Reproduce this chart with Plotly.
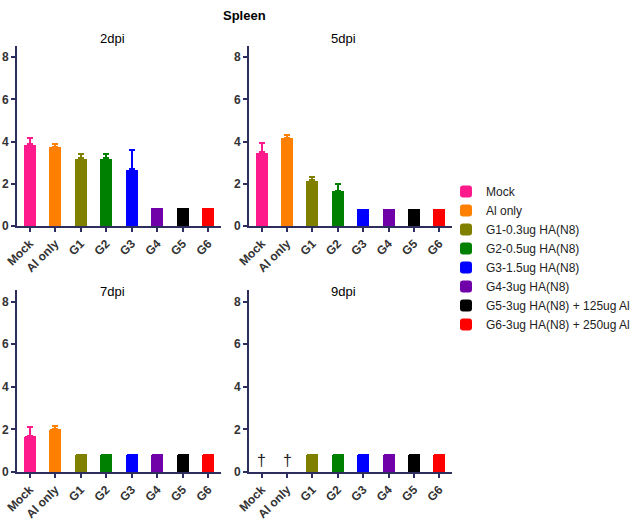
import plotly.graph_objects as go

W, H = 641, 523

categories = ["Mock", "Al only", "G1", "G2", "G3", "G4", "G5", "G6"]
legend_names = ["Mock", "Al only", "G1-0.3ug HA(N8)", "G2-0.5ug HA(N8)",
                "G3-1.5ug HA(N8)", "G4-3ug HA(N8)",
                "G5-3ug HA(N8) + 125ug Al", "G6-3ug HA(N8) + 250ug Al"]
colors = ["#FF1A8C", "#FF8000", "#808000", "#008000", "#0000FF", "#7000A8", "#000000", "#FF0000"]

panel_titles = ["2dpi", "5dpi", "7dpi", "9dpi"]
# mean values (None = no survivors, marked with dagger)
vals_2dpi = [3.88, 3.76, 3.22, 3.22, 2.70, 0.86, 0.86, 0.86]
err_2dpi = [4.16, 3.87, 3.40, 3.40, 3.60, None, None, None]
vals_5dpi = [3.50, 4.18, 2.17, 1.67, 0.81, 0.81, 0.81, 0.81]
err_5dpi = [3.94, 4.32, 2.30, 1.98, None, None, None, None]
vals_7dpi = [1.67, 2.00, 0.83, 0.83, 0.83, 0.83, 0.83, 0.83]
err_7dpi = [2.10, 2.15, None, None, None, None, None, None]
vals_9dpi = [None, None, 0.86, 0.86, 0.86, 0.86, 0.86, 0.86]
err_9dpi = [None, None, None, None, None, None, None, None]
dagger_9dpi = ["†", "†", "", "", "", "", "", ""]

panels = [(vals_2dpi, err_2dpi), (vals_5dpi, err_5dpi), (vals_7dpi, err_7dpi), (vals_9dpi, err_9dpi)]


def fx(x):
    return x / W


def fy(y):
    return 1 - y / H


# panel pixel geometry: (x_left, x_right, y_zero, y_top)
geom = [(17, 221, 226, 45.5), (249, 452, 226, 45.5), (17, 221, 472, 290), (249, 452, 472, 290)]
YMAX = 8.55
AXCOL = "#2E2E5E"
FONT = "Liberation Sans, Arial, sans-serif"

fig = go.Figure()
layout = {}
for p, ((vals, errs), (xl, xr, y0, yt)) in enumerate(zip(panels, geom)):
    sfx = "" if p == 0 else str(p + 1)
    xa, ya = "x" + sfx, "y" + sfx
    for i, cat in enumerate(categories):
        v = vals[i]
        if v is None:
            continue
        e = errs[i]
        err = dict(type="data", symmetric=False, array=[e - v], arrayminus=[0],
                   color=colors[i], thickness=2, width=3, visible=True) if e is not None else dict(visible=False)
        fig.add_trace(go.Bar(
            x=[cat], y=[v], name=legend_names[i], marker=dict(color=colors[i], line=dict(width=0)),
            width=0.47, error_y=err, xaxis=xa, yaxis=ya,
            legendgroup=legend_names[i], showlegend=(p == 0)))
    layout["xaxis" + sfx] = dict(
        domain=[fx(xl), fx(xr)], anchor=ya, type="category", categoryorder="array", automargin=False,
        categoryarray=categories, range=[-0.5, 7.5], showline=True, linecolor=AXCOL, linewidth=2,
        ticks="outside", ticklen=4, tickwidth=1.5, tickcolor=AXCOL, tickangle=-45,
        tickfont=dict(family=FONT, size=12, color="#333333", weight="bold"), showgrid=False, zeroline=False, fixedrange=True)
    layout["yaxis" + sfx] = dict(
        domain=[fy(y0), fy(yt)], anchor=xa, range=[0, YMAX], tickvals=[0, 2, 4, 6, 8],
        automargin=False,
        showline=True, linecolor=AXCOL, linewidth=2, ticks="outside", ticklen=4, tickwidth=1.5,
        tickcolor=AXCOL, tickfont=dict(family=FONT, size=12, color="#333333", weight="bold"),
        showgrid=False, zeroline=False, fixedrange=True)

annotations = [dict(text="<b>Spleen</b>", x=fx(244), y=fy(16), xref="paper", yref="paper",
                    xanchor="center", yanchor="middle",
                    showarrow=False, font=dict(family=FONT, size=13, color="#000000"))]
title_pos = [(112, 38), (343, 38), (112, 291), (343, 291)]
for t, (tx, ty) in zip(panel_titles, title_pos):
    annotations.append(dict(text=t, x=fx(tx), y=fy(ty), xref="paper", yref="paper",
                            xanchor="center", yanchor="middle",
                            showarrow=False, font=dict(family=FONT, size=13, color="#000000")))
for i, d in enumerate(dagger_9dpi):
    if d:
        annotations.append(dict(text=d, x=categories[i], y=0.55, xref="x4", yref="y4",
                                xanchor="center", yanchor="middle",
                                showarrow=False, font=dict(family=FONT, size=16, color="#222222")))

fig.update_layout(
    width=W, height=H, margin=dict(l=0, r=0, t=0, b=0, autoexpand=False), autosize=False,
    paper_bgcolor="white", plot_bgcolor="white", barmode="overlay", bargap=0,
    barcornerradius=2,
    legend=dict(x=fx(446), y=fy(177), xanchor="left", yanchor="top",
                font=dict(family=FONT, size=12, color="#222222"), tracegroupgap=0,
                itemwidth=30, bgcolor="rgba(0,0,0,0)"),
    annotations=annotations, **layout)

# remove the browser's default 8px body margin so the figure fills the window exactly
fig.write_html("out.html", config={"displayModeBar": False},
               post_script="document.body.style.margin='0';document.body.style.overflow='hidden';")
